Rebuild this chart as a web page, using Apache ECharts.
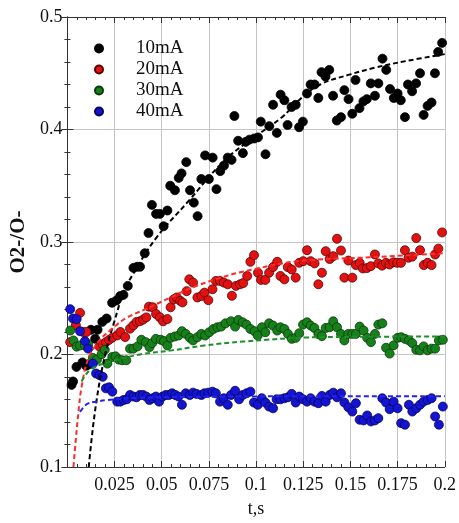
<!DOCTYPE html>
<html><head><meta charset="utf-8">
<script src="https://cdn.jsdelivr.net/npm/echarts@6/dist/echarts.min.js"></script>
<style>html,body{margin:0;padding:0;background:#fff}#c{width:459px;height:523px}</style>
</head><body><div id="c"></div>
<script>
const seriesNames = ['10mA','20mA','30mA','40mA'];
const xTicks = [0.025,0.05,0.075,0.1,0.125,0.15,0.175,0.2];
const yTicks = [0.1,0.2,0.3,0.4,0.5];

const pts10 = [[0.0022,0.173],[0.003,0.176],[0.0048,0.189],[0.008,0.193],[0.0099,0.190],[0.011,0.191],[0.0125,0.222],[0.0147,0.214],[0.016,0.222],[0.0185,0.229],[0.0208,0.232],[0.0237,0.246],[0.026,0.248],[0.028,0.252],[0.0297,0.253],[0.032,0.261],[0.035,0.277],[0.037,0.278],[0.0385,0.278],[0.041,0.290],[0.043,0.308],[0.0448,0.333],[0.047,0.325],[0.049,0.325],[0.051,0.314],[0.053,0.328],[0.0545,0.350],[0.057,0.346],[0.059,0.357],[0.0605,0.361],[0.063,0.371],[0.065,0.346],[0.067,0.335],[0.069,0.323],[0.071,0.356],[0.073,0.377],[0.075,0.356],[0.077,0.375],[0.079,0.347],[0.081,0.363],[0.083,0.368],[0.085,0.375],[0.087,0.373],[0.0885,0.412],[0.0905,0.390],[0.093,0.379],[0.0945,0.389],[0.0965,0.391],[0.099,0.392],[0.101,0.393],[0.1025,0.407],[0.105,0.378],[0.107,0.403],[0.109,0.422],[0.111,0.397],[0.113,0.431],[0.115,0.426],[0.1167,0.404],[0.1188,0.420],[0.121,0.422],[0.1228,0.402],[0.1248,0.407],[0.127,0.432],[0.1289,0.440],[0.131,0.440],[0.133,0.428],[0.1347,0.451],[0.1368,0.447],[0.1388,0.453],[0.1408,0.430],[0.1428,0.408],[0.145,0.411],[0.1468,0.435],[0.149,0.427],[0.151,0.414],[0.1527,0.444],[0.1548,0.419],[0.1569,0.425],[0.1587,0.427],[0.1608,0.441],[0.163,0.430],[0.1648,0.441],[0.167,0.463],[0.169,0.453],[0.171,0.436],[0.173,0.428],[0.175,0.432],[0.1767,0.426],[0.1789,0.411],[0.1805,0.440],[0.1827,0.434],[0.1848,0.441],[0.1869,0.450],[0.1888,0.413],[0.1909,0.421],[0.193,0.424],[0.1948,0.450],[0.1965,0.469],[0.1986,0.477]];

const pts20 = [[0.0015,0.211],[0.0045,0.226],[0.0067,0.237],[0.0084,0.220],[0.0101,0.220],[0.017,0.207],[0.0187,0.209],[0.0204,0.211],[0.0221,0.213],[0.0238,0.215],[0.0264,0.217],[0.0281,0.220],[0.0306,0.2155],[0.0332,0.223],[0.035,0.226],[0.0367,0.229],[0.0384,0.2295],[0.0401,0.231],[0.0418,0.233],[0.0432,0.2425],[0.0452,0.242],[0.047,0.236],[0.049,0.233],[0.0507,0.2295],[0.053,0.2315],[0.0547,0.242],[0.0563,0.249],[0.058,0.2507],[0.0598,0.2477],[0.061,0.2463],[0.0632,0.2563],[0.0646,0.2668],[0.0666,0.2639],[0.0689,0.2507],[0.071,0.252],[0.0726,0.255],[0.0747,0.2483],[0.0769,0.258],[0.0787,0.2654],[0.0809,0.2654],[0.0829,0.2639],[0.085,0.2624],[0.0872,0.2522],[0.0893,0.261],[0.0915,0.2624],[0.0932,0.2635],[0.0953,0.2698],[0.097,0.2824],[0.0989,0.2883],[0.101,0.2727],[0.1026,0.2663],[0.1049,0.2663],[0.1069,0.2727],[0.109,0.2777],[0.1112,0.2824],[0.1129,0.2698],[0.115,0.2668],[0.1168,0.2777],[0.1189,0.2756],[0.121,0.2683],[0.1229,0.2815],[0.125,0.283],[0.127,0.2927],[0.1289,0.2830],[0.131,0.2810],[0.133,0.2624],[0.1349,0.2727],[0.1369,0.2918],[0.139,0.2849],[0.1409,0.2874],[0.1429,0.3029],[0.145,0.2924],[0.1468,0.2683],[0.1489,0.2835],[0.151,0.2683],[0.1529,0.2795],[0.1549,0.2815],[0.1566,0.2765],[0.1587,0.2768],[0.1608,0.2785],[0.163,0.2889],[0.1648,0.2810],[0.1668,0.2790],[0.1688,0.2815],[0.1707,0.2800],[0.1728,0.2820],[0.1748,0.2815],[0.1768,0.2815],[0.1789,0.2927],[0.1808,0.2860],[0.1828,0.2870],[0.1849,0.3035],[0.1869,0.2927],[0.1889,0.2795],[0.1909,0.2815],[0.193,0.2795],[0.1949,0.2889],[0.1966,0.2941],[0.1986,0.3085]];

const pts30 = [[0.0015,0.2213],[0.0032,0.2125],[0.0049,0.207],[0.0067,0.208],[0.0093,0.208],[0.011,0.209],[0.0135,0.197],[0.0157,0.1955],[0.0181,0.2002],[0.0198,0.2042],[0.0212,0.1919],[0.0238,0.1978],[0.0255,0.1984],[0.0272,0.1955],[0.029,0.1949],[0.0312,0.1949],[0.0332,0.2052],[0.035,0.2052],[0.0372,0.2072],[0.0392,0.2131],[0.0415,0.2110],[0.0435,0.2066],[0.0449,0.2101],[0.0469,0.2139],[0.0495,0.2131],[0.0512,0.2119],[0.053,0.208],[0.0547,0.2148],[0.0569,0.216],[0.0589,0.2169],[0.0607,0.2207],[0.0627,0.2183],[0.0649,0.2148],[0.0666,0.2125],[0.0689,0.2154],[0.071,0.2183],[0.073,0.2169],[0.0752,0.2198],[0.0774,0.2227],[0.0795,0.2242],[0.0815,0.2248],[0.0838,0.2277],[0.0867,0.2295],[0.0889,0.2248],[0.0906,0.2307],[0.0929,0.2286],[0.0949,0.2266],[0.097,0.2227],[0.0992,0.2207],[0.1009,0.2169],[0.1031,0.2242],[0.1049,0.2198],[0.1069,0.2277],[0.109,0.2257],[0.1112,0.2213],[0.1129,0.2242],[0.115,0.2227],[0.1169,0.2183],[0.1189,0.2139],[0.121,0.2148],[0.1229,0.2189],[0.1249,0.2266],[0.127,0.2286],[0.1289,0.2257],[0.1309,0.2236],[0.133,0.2183],[0.1349,0.2163],[0.1369,0.2236],[0.139,0.2242],[0.1409,0.2295],[0.1429,0.2242],[0.145,0.2183],[0.1468,0.2125],[0.1489,0.2183],[0.151,0.2183],[0.1529,0.2183],[0.1549,0.2248],[0.157,0.2213],[0.1589,0.2148],[0.1609,0.2110],[0.163,0.2183],[0.1648,0.2266],[0.1669,0.2277],[0.1689,0.2060],[0.1708,0.2008],[0.1729,0.2081],[0.175,0.2148],[0.1769,0.2154],[0.1789,0.2139],[0.181,0.2125],[0.1828,0.2101],[0.1849,0.2042],[0.1869,0.2037],[0.1888,0.2072],[0.1909,0.2037],[0.193,0.2052],[0.1949,0.2052],[0.1969,0.2125],[0.199,0.2131]];

const pts40 = [[0.0015,0.2403],[0.003,0.232],[0.0049,0.2315],[0.0067,0.2207],[0.0093,0.2119],[0.011,0.2052],[0.0135,0.1919],[0.0152,0.1831],[0.017,0.1817],[0.0187,0.1802],[0.0204,0.1699],[0.0221,0.1708],[0.0238,0.167],[0.0264,0.1581],[0.0281,0.1581],[0.0298,0.1596],[0.0315,0.1602],[0.0332,0.164],[0.035,0.1626],[0.0367,0.162],[0.0384,0.164],[0.0401,0.164],[0.0418,0.1626],[0.0435,0.1596],[0.0452,0.1611],[0.0469,0.1626],[0.0486,0.1581],[0.0504,0.1626],[0.0521,0.164],[0.0538,0.164],[0.0555,0.1655],[0.0572,0.164],[0.0589,0.1626],[0.0607,0.1553],[0.0627,0.1655],[0.0649,0.164],[0.0666,0.1661],[0.0684,0.165],[0.071,0.164],[0.0726,0.1655],[0.0747,0.1661],[0.0769,0.167],[0.0787,0.1655],[0.0809,0.1581],[0.0829,0.1611],[0.085,0.1553],[0.0867,0.164],[0.0889,0.1678],[0.091,0.1602],[0.0929,0.164],[0.0949,0.1655],[0.097,0.167],[0.0989,0.1573],[0.1009,0.1553],[0.103,0.1611],[0.1049,0.1573],[0.1069,0.1537],[0.109,0.1522],[0.1109,0.1602],[0.1129,0.1602],[0.115,0.1611],[0.1169,0.162],[0.1189,0.165],[0.121,0.1573],[0.1229,0.1626],[0.1249,0.1602],[0.127,0.1581],[0.1289,0.1611],[0.1309,0.1581],[0.133,0.1567],[0.1349,0.1632],[0.1369,0.1581],[0.139,0.164],[0.1409,0.1661],[0.1429,0.162],[0.145,0.1655],[0.1468,0.1573],[0.1489,0.1531],[0.151,0.1493],[0.1529,0.1567],[0.1549,0.142],[0.157,0.1414],[0.1589,0.1458],[0.1609,0.1405],[0.163,0.1414],[0.1648,0.1434],[0.1669,0.1611],[0.1689,0.1573],[0.1708,0.1514],[0.1729,0.1581],[0.175,0.1522],[0.1769,0.139],[0.1789,0.1376],[0.181,0.1553],[0.1828,0.1493],[0.1849,0.1522],[0.1869,0.1553],[0.1888,0.1581],[0.1909,0.1596],[0.193,0.1611],[0.1949,0.1449],[0.1969,0.1376],[0.199,0.1537]];

const fit10 = [[0.0113,0.1],[0.015,0.154],[0.02,0.2],[0.025,0.23],[0.03,0.256],[0.035,0.272],[0.047,0.3035],[0.064,0.336],[0.0812,0.369],[0.093,0.386],[0.1138,0.411],[0.122,0.425],[0.134,0.440],[0.15,0.449],[0.163,0.455],[0.18,0.461],[0.2,0.467]];
const fit20 = [[0.0032,0.1],[0.0045,0.125],[0.0058,0.148],[0.0075,0.171],[0.011,0.196],[0.017,0.2125],[0.0238,0.223],[0.0307,0.232],[0.041,0.240],[0.0547,0.2507],[0.064,0.258],[0.0812,0.2683],[0.0984,0.2756],[0.1224,0.283],[0.1617,0.2865],[0.2,0.290]];
const fit30 = [[0.0075,0.176],[0.0093,0.181],[0.0126,0.187],[0.0212,0.193],[0.0384,0.2],[0.0555,0.2037],[0.0726,0.208],[0.0932,0.2115],[0.1343,0.2154],[0.2,0.216]];
const fit40 = [[0.0067,0.149],[0.0085,0.153],[0.011,0.1565],[0.015,0.158],[0.0212,0.1596],[0.0384,0.1615],[0.08,0.1625],[0.15,0.163],[0.2,0.163]];

const dotColors = ['#000000','#e31212','#16801a','#1414d2'];
const dotBorders = ['#000000','#5a0000','#0a3a0a','#05055a'];
const lineColors = ['#000000','#ff2a2a','#1e8f2a','#2323f0'];
const pts = [pts10, pts20, pts30, pts40];
const fits = [fit10, fit20, fit30, fit40];

const FONT = 'Liberation Serif';
const fmt = v => (Math.abs(v) < 1e-9 ? '' : String(parseFloat(v.toFixed(3))));

const series = [];
pts.forEach((d, i) => {
  series.push({
    name: seriesNames[i], type: 'scatter', data: d, symbol: 'circle', symbolSize: 9,
    itemStyle: { color: dotColors[i], borderColor: dotBorders[i], borderWidth: 0.8, opacity: 1 },
    z: 3, silent: true
  });
});
fits.forEach((d, i) => {
  series.push({
    type: 'line', data: d, smooth: 0.4, showSymbol: false, symbol: 'none',
    lineStyle: { color: lineColors[i], width: 2, type: [5, 3] }, z: 5, silent: true
  });
});

const commonTick = { show: true, inside: true, length: 6, lineStyle: { color: '#333' } };
const commonMinor = { show: true, splitNumber: 5, length: 3, lineStyle: { color: '#333' } };

const chart = echarts.init(document.getElementById('c'), null, { renderer: 'canvas' });
chart.setOption({
  animation: false,
  backgroundColor: '#ffffff',
  grid: { left: 59, right: 11, top: 17, bottom: 52, containLabel: false },
  legend: {
    data: seriesNames, orient: 'vertical', left: 89, top: 33, itemGap: 0,
    itemWidth: 8, itemHeight: 8, icon: 'circle',
    textStyle: { fontFamily: FONT, fontSize: 19, color: '#111', lineHeight: 21, padding: [0, 0, 0, 28] }
  },
  xAxis: [{
    type: 'value', min: 0, max: 0.2, interval: 0.025, position: 'bottom',
    name: 't,s', nameLocation: 'middle', nameGap: 33,
    nameTextStyle: { fontFamily: FONT, fontSize: 18, color: '#111' },
    axisLine: { show: true, lineStyle: { color: '#333', width: 1 } },
    axisTick: commonTick, minorTick: commonMinor,
    axisLabel: { formatter: fmt, fontFamily: FONT, fontSize: 18, color: '#111', margin: 9 },
    splitLine: { show: true, lineStyle: { color: '#c4c4c4', width: 1 } }
  }, {
    type: 'value', min: 0, max: 0.2, interval: 0.025, position: 'top',
    axisLine: { show: true, lineStyle: { color: '#333', width: 1 } },
    axisTick: commonTick, minorTick: commonMinor,
    axisLabel: { show: false }, splitLine: { show: false }
  }],
  yAxis: [{
    type: 'value', min: 0.1, max: 0.5, interval: 0.1, position: 'left',
    name: 'O2-/O-', nameLocation: 'middle', nameGap: 36, nameRotate: 90,
    nameTextStyle: { fontFamily: FONT, fontSize: 21, fontWeight: 'bold', color: '#111' },
    axisLine: { show: true, lineStyle: { color: '#333', width: 1 } },
    axisTick: commonTick, minorTick: commonMinor,
    axisLabel: { formatter: fmt, fontFamily: FONT, fontSize: 18, color: '#111', margin: 5 },
    splitLine: { show: true, lineStyle: { color: '#c4c4c4', width: 1 } }
  }, {
    type: 'value', min: 0.1, max: 0.5, interval: 0.1, position: 'right',
    axisLine: { show: true, lineStyle: { color: '#333', width: 1 } },
    axisTick: commonTick, minorTick: commonMinor,
    axisLabel: { show: false }, splitLine: { show: false }
  }],
  series: series
});
</script></body></html>
